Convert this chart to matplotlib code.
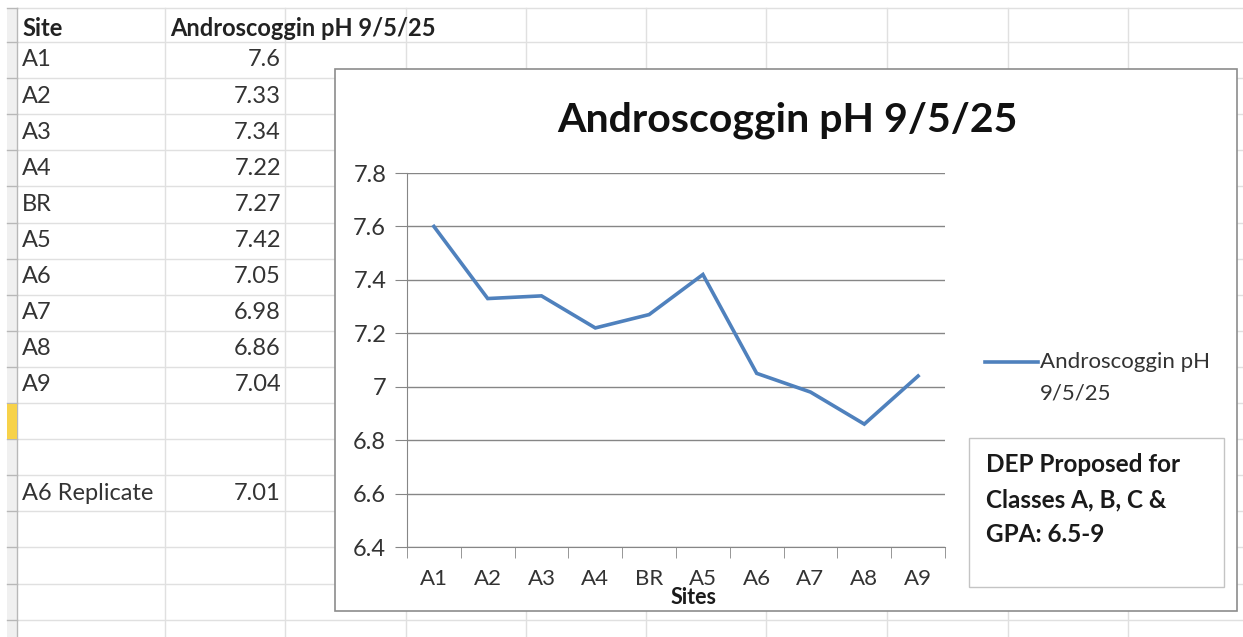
import matplotlib
matplotlib.use("Agg")
from matplotlib import pyplot as plt
from matplotlib.patches import Rectangle
from matplotlib.lines import Line2D

plt.rcParams["font.family"] = ["Lato", "DejaVu Sans"]

W, H = 1243, 637

# data from the sheet
sites = ["A1", "A2", "A3", "A4", "BR", "A5", "A6", "A7", "A8", "A9"]
ph = [7.6, 7.33, 7.34, 7.22, 7.27, 7.42, 7.05, 6.98, 6.86, 7.04]
replicate_label = "A6 Replicate"
replicate_value = 7.01
series_name = "Androscoggin pH 9/5/25"
yticks = [6.4, 6.6, 6.8, 7.0, 7.2, 7.4, 7.6, 7.8]
ytick_labels = ["6.4", "6.6", "6.8", "7", "7.2", "7.4", "7.6", "7.8"]
note = "DEP Proposed for\nClasses A, B, C &\nGPA: 6.5-9"

TEXT = "#333333"
GRID_SHEET = "#e0e0e0"
LINE_BLUE = "#4f81bd"

fig = plt.figure(figsize=(W / 100, H / 100), dpi=100)
fig.patch.set_facecolor("white")


def fx(px):
    return px / W


def fy(py):
    return 1 - py / H


# ---- spreadsheet background, drawn in pixel space
bg = fig.add_axes([0, 0, 1, 1], zorder=0)
bg.set_xlim(0, W)
bg.set_ylim(H, 0)
bg.axis("off")

row_lines = [8] + [42 + 36.1 * k for k in range(17)]
col_lines = [165, 285, 406, 526, 646, 766, 887, 1008, 1128]
for y in row_lines:
    bg.plot([17, W], [y, y], color=GRID_SHEET, lw=1, zorder=1)
for x in col_lines:
    bg.plot([x, x], [8, H], color=GRID_SHEET, lw=1, zorder=1)

# row header strip on the left
bg.add_patch(Rectangle((7, 8), 10, H - 8, facecolor="#f0f0f0", edgecolor="none", zorder=2))
bg.plot([17, 17], [8, H], color="#b8b8b8", lw=1, zorder=3)
for y in row_lines:
    bg.plot([7, 17], [y, y], color="#b8b8b8", lw=1, zorder=3)
bg.add_patch(Rectangle((7, 404), 10, 35, facecolor="#f7d24a", edgecolor="none", zorder=3))

# table text
TFS = 17
row_y = [60 + 36.1 * k for k in range(len(sites))]
bg.text(22, 29, "Site", fontsize=TFS, fontweight="bold", color="#222222", va="center")
bg.text(170, 29, series_name, fontsize=TFS, fontweight="bold", color="#222222", va="center")
for y, s, v in zip(row_y, sites, ph):
    bg.text(22, y, s, fontsize=TFS, color=TEXT, va="center")
    bg.text(281, y, f"{v:g}", fontsize=TFS, color=TEXT, va="center", ha="right")
bg.text(22, 494, replicate_label, fontsize=TFS, color=TEXT, va="center")
bg.text(281, 494, f"{replicate_value:g}", fontsize=TFS, color=TEXT, va="center", ha="right")

# chart frame
bg.add_patch(Rectangle((335, 69), 1237 - 335, 611 - 69, facecolor="white",
                       edgecolor="#8c8c8c", lw=1.2, zorder=5))

# text box inside chart
bg.add_patch(Rectangle((969, 438), 1224 - 969, 587 - 438, facecolor="white",
                       edgecolor="#c4c4c4", lw=1, zorder=6))
for i, ln in enumerate(note.split("\n")):
    bg.text(986, 465 + 35 * i, ln, fontsize=17.5, fontweight="bold", color="#1a1a1a",
            va="center", zorder=7)

# ---- the chart itself
ax_l, ax_r, ax_t, ax_b = 407, 945, 173, 547
ax = fig.add_axes([fx(ax_l), fy(ax_b), fx(ax_r - ax_l), (ax_b - ax_t) / H], zorder=10)
ax.patch.set_alpha(0)

xs = list(range(len(sites)))
ax.plot(xs, ph, color=LINE_BLUE, lw=2.6, solid_joinstyle="miter")

ax.set_xlim(-0.5, len(sites) - 0.5)
ax.set_ylim(6.4, 7.8)
ax.set_yticks(yticks)
ax.set_yticklabels(ytick_labels)
ax.set_xticks(xs)
ax.set_xticklabels(sites)
ax.set_xticks([i - 0.5 for i in range(len(sites) + 1)], minor=True)
ax.tick_params(axis="x", which="major", length=0, pad=16, labelsize=16, labelcolor=TEXT)
ax.tick_params(axis="x", which="minor", length=8, color="#868686", direction="out")
ax.tick_params(axis="y", length=9, color="#868686", pad=6, labelsize=17, labelcolor=TEXT)
ax.grid(axis="y", color="#868686", lw=1)
ax.set_axisbelow(True)
for side in ["top", "right"]:
    ax.spines[side].set_visible(False)
for side in ["left", "bottom"]:
    ax.spines[side].set_color("#868686")

fig.text(fx(787), fy(120), series_name, fontsize=29.5, fontweight="bold",
         color="#111111", ha="center", va="center")
fig.text(fx(694), fy(598), "Sites", fontsize=15.5, fontweight="bold",
         color="#1a1a1a", ha="center", va="center", zorder=20)

# legend, placed by hand where Excel put it
bg.add_line(Line2D([985, 1038], [362, 362], color=LINE_BLUE, lw=2.6, zorder=7))
bg.text(1040, 362, "Androscoggin pH", fontsize=16, color=TEXT, va="center", zorder=7)
bg.text(1040, 393, "9/5/25", fontsize=16, color=TEXT, va="center", zorder=7)

fig.savefig("out.png", dpi=100)
